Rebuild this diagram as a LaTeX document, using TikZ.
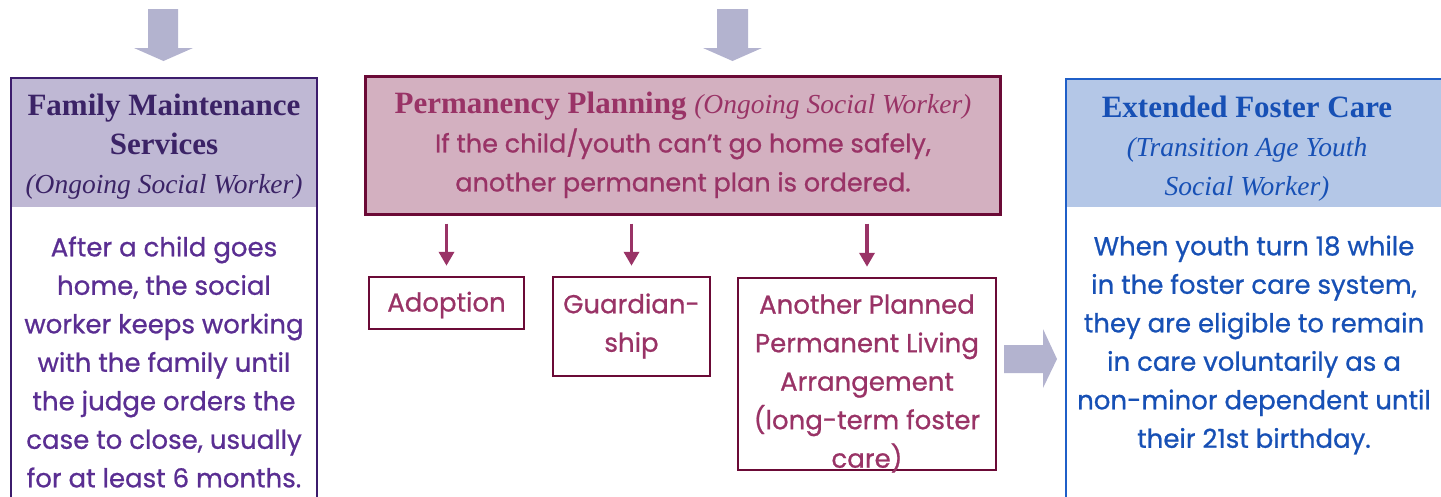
\documentclass[tikz,border=0pt]{standalone}
\usepackage{fontspec}
\setmainfont{Liberation Serif}
\newfontfamily\bodyfont[FakeBold=0.8]{Poppins}
\usetikzlibrary{arrows.meta}
\definecolor{purpleB}{HTML}{3C1C6C}
\definecolor{lavender}{HTML}{BFB8D4}
\definecolor{purpleT}{HTML}{3B2366}
\definecolor{purpleBody}{HTML}{5A2E92}
\definecolor{arrowgray}{HTML}{B3B3CF}
\definecolor{maroonB}{HTML}{6B0A36}
\definecolor{pinkfill}{HTML}{D3B0C0}
\definecolor{maroonT}{HTML}{993366}
\definecolor{blueB}{HTML}{1F5FC8}
\definecolor{bluefill}{HTML}{B4C7E7}
\definecolor{blueT}{HTML}{1750B5}
\begin{document}
\begin{tikzpicture}[x=1pt,y=-1pt,
  hdr/.style={align=center, inner sep=0pt, font=\fontsize{31}{39}\selectfont},
  bodytxt/.style={align=center, inner sep=0pt, font=\bodyfont\fontsize{26}{38.5}\selectfont},
  smallbox/.style={draw=maroonB, line width=2.5pt, rectangle, inner sep=0pt},
  smallarr/.style={draw=maroonT, line width=3.5pt, -{Triangle[width=15pt,length=14pt]}},
  bigarrow/.style={fill=arrowgray, draw=none}]
\useasboundingbox (0,0) rectangle (1441,496);
\clip (0,0) rectangle (1441,496);

% gray incoming arrows
\fill[arrowgray] (148,9) -- (178,9) -- (178,48) -- (193,48) -- (163.5,61) -- (134,48) -- (148,48) -- cycle;
\fill[arrowgray] (717,9) -- (748,9) -- (748,48) -- (762,48) -- (732.5,61) -- (703,48) -- (717,48) -- cycle;

% left box: Family Maintenance Services
\fill[lavender] (11,78) rectangle (317,207);
\draw[purpleB, line width=2.5pt] (11,78) rectangle (317,540);
\node[hdr, text=purpleT] (fmhead) at (164,147)
  {\textbf{Family Maintenance}\\ \textbf{Services}\\ {\fontsize{27.5}{39}\selectfont\itshape (Ongoing Social Worker)}};
\node[bodytxt, text=purpleBody] (fmbody) at (164,362)
  {After a child goes\\ home, the social\\ worker keeps working\\ with the family until\\ the judge orders the\\ case to close, usually\\ for at least 6 months.};

% middle box: Permanency Planning
\node[draw=maroonB, line width=3pt, fill=pinkfill, rectangle, inner sep=0pt,
      minimum width=635pt, minimum height=138pt] (pp) at (682.5,145) {};
\node[hdr, text=maroonT] (pptext) at (683,145)
  {\textbf{Permanency Planning} {\fontsize{27.5}{39}\selectfont\itshape (Ongoing Social Worker)}\\
   {\bodyfont\fontsize{25.5}{39}\selectfont If the child/youth can’t go home safely,}\\
   {\bodyfont\fontsize{25.5}{39}\selectfont another permanent plan is ordered.}};

% small boxes
\node[smallbox, minimum width=155pt, minimum height=52pt] (adopt) at (446.5,303) {};
\node[bodytxt, text=maroonT] (adopttext) at (446.5,305) {Adoption};
\node[smallbox, minimum width=157pt, minimum height=99pt] (guard) at (631.5,326.5) {};
\node[bodytxt, text=maroonT] (guardtext) at (631.5,326) {Guardian-\\ ship};
\node[smallbox, minimum width=258pt, minimum height=192pt] (appla) at (867,374) {};
\node[bodytxt, text=maroonT] (applatext) at (867,383.5)
  {Another Planned\\ Permanent Living\\ Arrangement\\ (long-term foster\\ care)};

\draw[smallarr, shorten <=8pt, shorten >=10pt] (pp.south -| adopt.north) -- (adopt.north);
\draw[smallarr, shorten <=8pt, shorten >=10pt] (pp.south -| guard.north) -- (guard.north);
\draw[smallarr, shorten <=8pt, shorten >=10pt] (pp.south -| appla.north) -- (appla.north);

% right gray arrow
\fill[arrowgray] (1004,345) -- (1043,345) -- (1043,329) -- (1057,359) -- (1043,388) -- (1043,373) -- (1004,373) -- cycle;

% right box: Extended Foster Care
\fill[bluefill] (1066,79) rectangle (1460,207);
\draw[blueB, line width=2.5pt] (1066,79) rectangle (1460,540);
\node[hdr, text=blueT] (efchead) at (1247,149)
  {\textbf{Extended Foster Care}\\ {\fontsize{27.5}{39}\selectfont\itshape (Transition Age Youth}\\ {\fontsize{27.5}{39}\selectfont\itshape Social Worker)}};
\node[bodytxt, text=blueT] (efcbody) at (1254,345)
  {When youth turn 18 while\\ in the foster care system,\\ they are eligible to remain\\ in care voluntarily as a\\ non-minor dependent until\\ their 21st birthday.};
\end{tikzpicture}
\end{document}
